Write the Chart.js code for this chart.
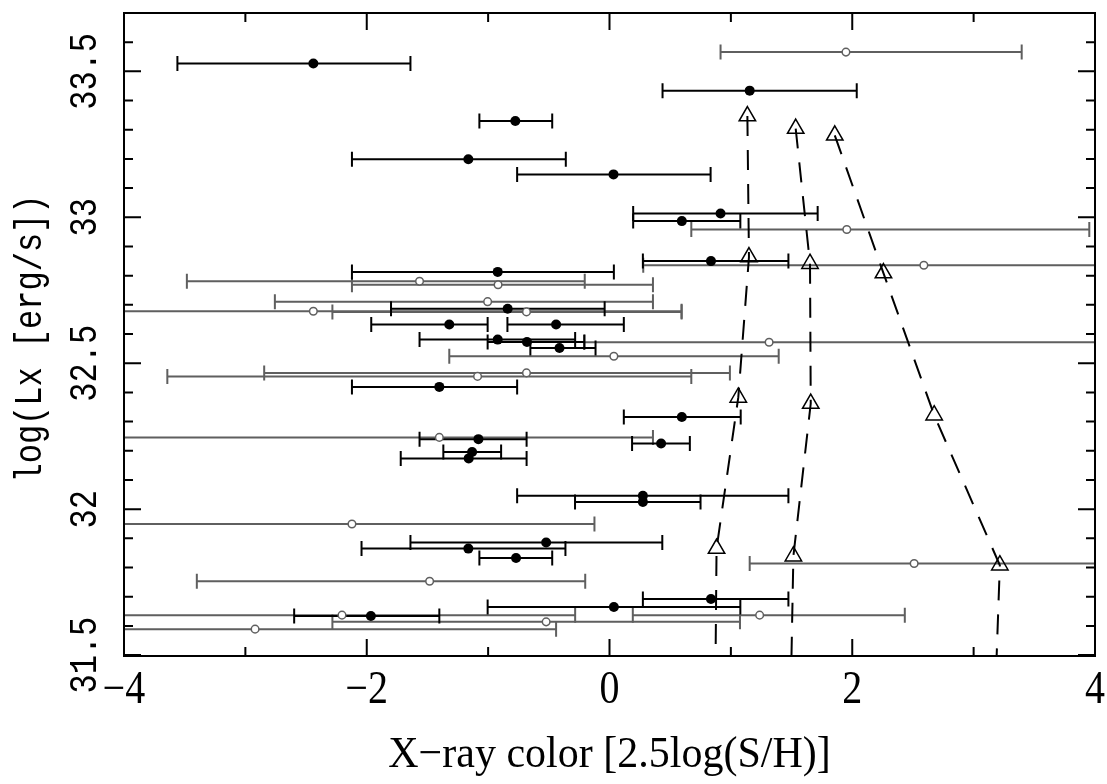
<!DOCTYPE html>
<html>
<head>
<meta charset="utf-8">
<script src="https://cdn.jsdelivr.net/npm/chart.js@4.4.1/dist/chart.umd.min.js"></script>
<style>
  html, body { margin: 0; padding: 0; background: #fff; }
  #wrap { width: 1107px; height: 784px; }
</style>
</head>
<body>
<div id="wrap"><canvas id="c" width="1107" height="784"></canvas></div>
<script>
// -----------------------------------------------------------------------------
// Data: X-ray colour vs log Lx. Error bars are given as [lo, hi] in colour.
// -----------------------------------------------------------------------------

// detected sources (filled dots)
const detColor = [-2.44, 1.155, -0.776, -1.163, 0.033, 0.915, 0.596, 0.836, -0.921, -0.839,
  -1.32, -0.44, -0.921, -0.68, -0.412, -1.402, 0.596, 0.425, -1.08, -1.132,
  -1.16, 0.275, 0.275, -0.522, -1.163, -0.77, 0.036, 0.836, -1.966];
const detLx = [33.527, 33.434, 33.330, 33.199, 33.147, 33.013, 32.987, 32.850, 32.813, 32.687,
  32.633, 32.633, 32.581, 32.573, 32.552, 32.419, 32.316, 32.225, 32.240, 32.196,
  32.174, 32.046, 32.025, 31.886, 31.865, 31.833, 31.665, 31.692, 31.634];
const detLo = [-3.56, 0.437, -1.072, -2.122, -0.761, 0.195, 0.195, 0.275, -2.122, -1.80,
  -1.963, -0.841, -1.565, -1.004, -0.652, -2.122, 0.118, 0.186, -1.565, -1.369,
  -1.72, -0.761, -0.284, -1.64, -2.043, -1.072, -1.004, 0.275, -2.598];
const detHi = [-1.64, 2.037, -0.472, -0.36, 0.833, 1.715, 1.078, 1.474, 0.036, -0.04,
  -1.004, 0.118, -0.283, -0.206, -0.115, -0.761, 1.081, 0.662, -0.683, -0.893,
  -0.683, 1.474, 0.750, 0.435, -0.363, -0.472, 1.078, 1.474, -1.402];

// faint sources (open circles)
const faintColor = [1.948, 1.955, 2.59, -1.565, -0.918, -1.004, -2.44, -0.684, 1.315, 0.036,
  -0.684, -1.087, -1.402, -2.122, 2.51, -1.482, -2.204, 1.237, -0.522, -2.92];
const faintLx = [33.566, 32.958, 32.836, 32.781, 32.769, 32.711, 32.678, 32.676, 32.572, 32.524,
  32.467, 32.455, 32.246, 31.949, 31.814, 31.753, 31.637, 31.637, 31.614, 31.589];
const faintLo = [0.915, 0.674, 0.278, -3.482, -2.122, -2.757, -4.6, -2.283, -0.21, -1.32,
  -2.845, -3.643, -4.6, -4.6, 1.155, -3.40, -4.6, 0.192, -2.283, -4.6];
const faintHi = [3.396, 3.953, 4.6, -0.204, 0.358, 0.358, 0.594, 0.594, 4.6, 1.394,
  0.992, 0.674, 0.358, -0.124, 4.6, -0.20, -0.283, 2.433, 1.075, -0.44];

// model tracks (triangles mark the grid steps, last point is the tail)
const trackAColor = [1.136, 1.149, 1.061, 0.882, 0.874];
const trackALx = [33.347, 32.864, 32.383, 31.865, 31.49];
const trackBColor = [1.534, 1.652, 1.658, 1.515, 1.499];
const trackBLx = [33.304, 32.841, 32.362, 31.839, 31.49];
const trackCColor = [1.856, 2.257, 2.675, 3.216, 3.189];
const trackCLx = [33.281, 32.809, 32.322, 31.808, 31.49];

// axes
const xTickValues = [-4, -2, 0, 2, 4];
const yTickValues = [31.5, 32, 32.5, 33, 33.5];

const GREY = '#5f5f5f';
const INK = '#000';

const toPoints = (xs, ys) => xs.map((x, i) => ({ x, y: ys[i] }));

// -----------------------------------------------------------------------------
// Horizontal error bars, drawn under the markers and clipped to the frame.
// -----------------------------------------------------------------------------

const _errorBarPlugin = {
  id: 'xErrorBars',
  beforeDatasetsDraw(chart) {
    const { ctx, chartArea: area, scales } = chart;
    const sx = scales.x;
    const sy = scales.y;
    const cap = 7.5;

    const drawSet = (ys, lo, hi, color) => {
      ctx.strokeStyle = color;
      ctx.lineWidth = 2;
      for (let i = 0; i < ys.length; i += 1) {
        const py = sy.getPixelForValue(ys[i]);
        const x0 = sx.getPixelForValue(lo[i]);
        const x1 = sx.getPixelForValue(hi[i]);
        ctx.beginPath();
        ctx.moveTo(x0, py);
        ctx.lineTo(x1, py);
        ctx.moveTo(x0, py - cap);
        ctx.lineTo(x0, py + cap);
        ctx.moveTo(x1, py - cap);
        ctx.lineTo(x1, py + cap);
        ctx.stroke();
      }
    };

    ctx.save();
    ctx.beginPath();
    ctx.rect(area.left, area.top, area.right - area.left, area.bottom - area.top);
    ctx.clip();
    drawSet(faintLx, faintLo, faintHi, GREY);
    drawSet(detLx, detLo, detHi, INK);
    ctx.restore();
  },
};

// -----------------------------------------------------------------------------
// Frame, inward ticks on all four sides, tick labels and axis titles.
// -----------------------------------------------------------------------------

// text drawn a little taller than the font's own proportions
function tallText(ctx, text, x, y, angle, stretch) {
  ctx.save();
  ctx.translate(x, y);
  ctx.rotate(angle);
  ctx.scale(1, stretch);
  ctx.fillText(text, 0, 0);
  ctx.restore();
}

const _frameAxesPlugin = {
  id: 'frameAxes',
  afterDraw(chart) {
    const { ctx, chartArea: a, scales } = chart;
    const sx = scales.x;
    const sy = scales.y;
    const major = 17;
    const minor = 9;

    ctx.save();
    ctx.strokeStyle = INK;
    ctx.lineWidth = 2;
    ctx.strokeRect(a.left, a.top, a.right - a.left, a.bottom - a.top);

    ctx.beginPath();
    for (let v = -3; v <= 3; v += 1) {
      const px = sx.getPixelForValue(v);
      const len = v % 2 === 0 ? major : minor;
      ctx.moveTo(px, a.bottom);
      ctx.lineTo(px, a.bottom - len);
      ctx.moveTo(px, a.top);
      ctx.lineTo(px, a.top + len);
    }
    for (let i = 315; i <= 337; i += 1) {
      const py = sy.getPixelForValue(i / 10);
      const len = i % 5 === 0 ? major : minor;
      ctx.moveTo(a.left, py);
      ctx.lineTo(a.left + len, py);
      ctx.moveTo(a.right, py);
      ctx.lineTo(a.right - len, py);
    }
    ctx.stroke();

    ctx.fillStyle = INK;
    ctx.textAlign = 'center';
    ctx.textBaseline = 'middle';

    ctx.font = '40px "Liberation Serif"';
    for (const v of xTickValues) {
      const label = v < 0 ? `\u2212${Math.abs(v)}` : String(v);
      tallText(ctx, label, sx.getPixelForValue(v), 691, 0, 1.15);
    }

    ctx.font = '32px "Liberation Mono"';
    for (const v of yTickValues) {
      tallText(ctx, String(v), 86, sy.getPixelForValue(v), -Math.PI / 2, 1.2);
    }

    ctx.font = '42px "Liberation Serif"';
    tallText(ctx, 'X\u2212ray color [2.5log(S/H)]', (a.left + a.right) / 2, 755, 0, 1.05);

    ctx.font = '32px "Liberation Mono"';
    tallText(ctx, 'log(Lx [erg/s])', 31, (a.top + a.bottom) / 2 + 4, -Math.PI / 2, 1.2);

    ctx.restore();
  },
};

const trackDataset = (xs, ys) => ({
  data: toPoints(xs, ys),
  showLine: true,
  borderColor: INK,
  borderWidth: 2,
  borderDash: [20, 14],
  pointStyle: 'triangle',
  pointRadius: (c) => (c.dataIndex < xs.length - 1 ? 9.5 : 0),
  pointBorderWidth: 1.5,
  pointBorderColor: INK,
  pointBackgroundColor: 'rgba(0,0,0,0)',
  order: 3,
});

new Chart(document.getElementById('c'), {
  type: 'scatter',
  data: {
    datasets: [
      {
        data: toPoints(detColor, detLx),
        pointRadius: 5,
        pointBorderWidth: 0,
        pointBackgroundColor: INK,
        order: 1,
      },
      {
        data: toPoints(faintColor, faintLx),
        pointRadius: 3.8,
        pointBorderWidth: 1.5,
        pointBorderColor: GREY,
        pointBackgroundColor: '#fff',
        order: 2,
      },
      trackDataset(trackAColor, trackALx),
      trackDataset(trackBColor, trackBLx),
      trackDataset(trackCColor, trackCLx),
    ],
  },
  options: {
    responsive: false,
    animation: false,
    layout: { padding: { left: 124, right: 12, top: 13, bottom: 128 } },
    plugins: { legend: { display: false }, tooltip: { enabled: false } },
    scales: {
      x: { type: 'linear', min: -4, max: 4, display: false },
      y: { type: 'linear', min: 31.497, max: 33.7, display: false },
    },
  },
  plugins: [_errorBarPlugin, _frameAxesPlugin],
});
</script>
</body>
</html>
